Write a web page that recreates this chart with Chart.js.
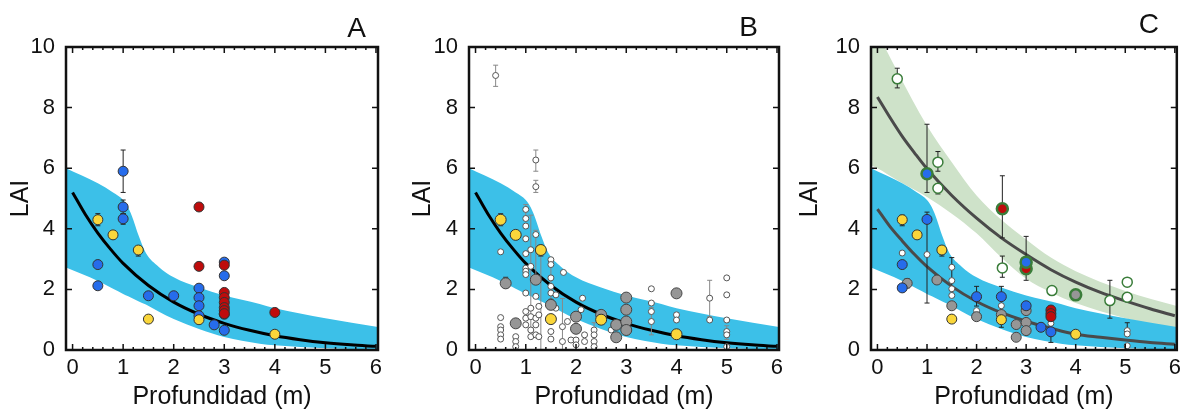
<!DOCTYPE html>
<html>
<head>
<meta charset="utf-8">
<script src="https://cdn.jsdelivr.net/npm/chart.js@4.4.0/dist/chart.umd.min.js"></script>
<style>
  body { margin: 0; background: #fff; }
  #wrap { position: relative; width: 1186px; height: 412px; overflow: hidden; }
  canvas { position: absolute; top: 0; }
</style>
</head>
<body>
<div id="wrap">
  <canvas id="chartA" width="394" height="412" style="left:2px"></canvas>
  <canvas id="chartB" width="392" height="412" style="left:404px"></canvas>
  <canvas id="chartC" width="395" height="412" style="left:791px"></canvas>
</div>
<script>
// axis ticks
const xTicks = [0, 1, 2, 3, 4, 5, 6];
const yTicks = [0, 2, 4, 6, 8, 10];

// blue confidence band (A, B and lower band of C)
const bandX     = [-0.13, 0.5, 0.8, 1.0, 1.1, 1.2, 1.3, 1.45, 1.7, 2.0, 2.5, 3.0, 3.7, 4.0, 5.0, 6.04];
const bandUpper = [6.0, 5.5, 5.2, 4.95, 4.7, 4.3, 3.8, 3.2, 2.75, 2.4, 2.06, 1.8, 1.52, 1.38, 1.05, 0.76];
const bandLower = [2.72, 2.28, 2.02, 1.85, 1.77, 1.69, 1.61, 1.5, 1.27, 1.02, 0.69, 0.43, 0.21, 0.16, 0.06, 0.02];

// green band (C)
const greenX     = [-0.13, 0, 0.4, 1.0, 1.5, 2.0, 2.5, 3.0, 3.5, 4.0, 5.0, 6.04];
const greenUpper = [11.0, 10.5, 9.2, 7.4, 6.2, 5.1, 4.3, 3.65, 3.05, 2.6, 1.95, 1.45];
const greenLower = [6.1, 6.0, 5.6, 5.05, 4.5, 3.85, 3.05, 2.35, 1.9, 1.55, 1.05, 0.7];

// fitted curves
const curveX     = [0, 0.25, 0.5, 0.75, 1, 1.5, 2, 2.5, 3, 3.5, 4, 4.5, 5, 5.5, 6];
const curveAB    = [5.2, 4.48, 3.86, 3.33, 2.86, 2.13, 1.58, 1.18, 0.88, 0.65, 0.47, 0.34, 0.24, 0.17, 0.12];
const curveCLow  = [4.65, 4.08, 3.6, 3.15, 2.75, 2.1, 1.6, 1.23, 0.95, 0.72, 0.52, 0.42, 0.33, 0.25, 0.19];
const curveCHigh = [8.35, 7.68, 7.05, 6.5, 5.98, 5.1, 4.35, 3.7, 3.15, 2.65, 2.24, 1.9, 1.62, 1.36, 1.13];

// panel A points
const aBlueX   = [1.0, 1.0, 1.0, 0.5, 0.5, 1.5, 2.0, 2.5, 2.5, 2.5, 2.5, 2.8, 3.0, 3.0, 3.0, 3.0];
const aBlueY   = [5.9, 4.72, 4.33, 2.82, 2.12, 1.79, 1.79, 2.04, 1.73, 1.46, 1.13, 0.83, 0.65, 2.9, 2.45, 1.18];
const aRedX    = [2.5, 2.5, 3.0, 3.0, 3.0, 3.0, 3.0, 3.0, 3.0, 4.0];
const aRedY    = [4.72, 2.76, 2.8, 1.9, 1.73, 1.57, 1.4, 1.3, 1.2, 1.24];
const yellowX  = [0.5, 0.8, 1.3, 1.5, 2.5, 4.0];
const yellowY  = [4.3, 3.8, 3.3, 1.02, 1.0, 0.52];
const aErrX    = [1.0, 1.0, 1.0, 0.5, 1.3];
const aErrLo   = [5.2, 4.5, 4.15, 4.1, 3.1];
const aErrHi   = [6.6, 4.95, 4.5, 4.5, 3.42];

// panel B points
const bGrayX  = [0.6, 0.8, 1.2, 1.5, 2.0, 2.0, 2.5, 2.8, 2.8, 3.0, 3.0, 3.0, 3.0, 4.0];
const bGrayY  = [2.2, 0.88, 2.32, 1.49, 1.1, 0.7, 1.16, 0.83, 0.42, 1.73, 1.33, 0.94, 0.66, 1.87];
const bWhiteX = [0.4, 0.5, 0.5, 0.5, 0.5, 0.5, 0.5, 0.8, 0.8, 0.8,
  1.0, 1.0, 1.0, 1.0, 1.0, 1.0, 1.0, 1.0, 1.0, 1.0, 1.0, 1.0,
  1.1, 1.1, 1.1, 1.1, 1.1, 1.1, 1.2, 1.2, 1.2, 1.2, 1.2, 1.2, 1.2,
  1.26, 1.26, 1.26, 1.5, 1.5, 1.5, 1.5, 1.5, 1.5, 1.5, 1.5, 1.6, 1.6,
  1.75, 1.73, 1.73, 1.83, 1.9, 2.13, 2.1, 2.0, 2.0, 2.17, 2.17,
  2.36, 2.36, 2.36, 2.36, 2.7, 3.0, 3.5, 3.5, 3.5, 3.5, 4.0, 4.0, 4.66, 4.66,
  5.0, 5.0, 5.0, 5.0, 5.0, 5.0];
const bWhiteY = [9.06, 3.24, 1.07, 0.77, 0.66, 0.5, 0.36, 0.44, 0.28, 0.11,
  4.64, 4.34, 4.09, 3.67, 3.18, 2.7, 2.6, 2.49, 1.88, 1.27, 1.05, 0.83,
  3.31, 2.76, 1.38, 1.1, 0.66, 0.44, 6.27, 5.39, 3.81, 1.77, 1.05, 0.83, 0.5,
  1.44, 1.16, 0.44, 2.98, 2.82, 2.38, 2.1, 1.88, 1.6, 0.61, 0.36, 1.82, 1.38,
  2.56, 0.77, 0.28, 0.94, 0.33, 1.71, 1.33, 0.33, 0.17, 0.5, 0.28,
  0.66, 0.5, 0.28, 0.11, 0.66, 0.99, 2.02, 1.55, 1.27, 0.94, 1.16, 0.99, 1.71, 0.99,
  2.38, 1.82, 0.99, 0.61, 0.5, 0.11];
const bErrX   = [0.4, 1.2, 1.2, 1.0, 1.1, 1.2, 1.3, 1.5, 1.73, 2.36, 3.5, 4.66, 5.0];
const bErrLo  = [8.7, 5.9, 5.2, 4.3, 0.4, 2.2, 0.0, 1.6, 0.0, 0.0, 0.5, 1.1, 0.35];
const bErrHi  = [9.4, 6.6, 5.6, 4.8, 4.45, 3.95, 3.2, 3.0, 1.7, 0.9, 1.4, 2.3, 0.8];
const bDarkErrX  = [0.5, 1.3, 0.6];
const bDarkErrLo = [4.1, 3.1, 2.05];
const bDarkErrHi = [4.5, 3.45, 2.4];

// panel C points
const cOpenX     = [0.4, 1.22, 1.22, 2.52, 3.52, 4.69, 5.04, 5.04];
const cOpenY     = [8.95, 6.2, 5.34, 2.71, 1.96, 1.63, 2.24, 1.74];
const cRingBlueX = [1.0, 3.0];
const cRingBlueY = [5.82, 2.9];
const cRingRedX  = [2.52, 3.0];
const cRingRedY  = [4.66, 2.68];
const cRingGrayX = [4.0];
const cRingGrayY = [1.82];
const cBlueX  = [1.0, 0.5, 0.5, 2.0, 2.5, 3.0, 3.3, 3.5];
const cBlueY  = [4.31, 2.82, 2.05, 1.76, 1.76, 1.46, 0.75, 0.6];
const cRedX   = [3.5, 3.5, 3.5];
const cRedY   = [1.32, 1.2, 1.1];
const cGrayX  = [0.6, 1.2, 1.5, 2.0, 2.5, 2.8, 2.8, 3.0, 3.0, 3.0];
const cGrayY  = [2.2, 2.31, 1.46, 1.1, 1.17, 0.84, 0.42, 1.3, 0.91, 0.64];
const cWhiteX = [0.5, 1.0, 1.5, 1.5, 1.5, 1.5, 2.0, 2.5, 3.5, 5.04, 5.04, 5.04];
const cWhiteY = [3.2, 3.15, 2.73, 2.29, 2.02, 1.8, 1.3, 1.46, 0.88, 0.64, 0.53, 0.14];
const cErrX  = [0.4, 1.0, 1.22, 1.22, 2.52, 2.52, 3.0, 4.69, 1.0, 0.5, 1.3, 1.5, 2.0, 2.5, 3.5, 5.04, 0.6];
const cErrLo = [8.65, 5.2, 5.9, 5.15, 3.7, 2.4, 2.3, 1.05, 1.55, 4.1, 3.1, 1.75, 1.45, 0.75, 0.25, 0.6, 2.05];
const cErrHi = [9.3, 7.45, 6.55, 5.34, 5.75, 3.1, 3.75, 2.3, 4.55, 4.45, 3.4, 3.05, 2.1, 2.1, 1.0, 0.9, 2.35];

const BLUE_BAND = 'rgb(60,192,232)';
const GREEN_BAND = 'rgb(206,226,201)';
const C_BLUE = 'rgb(38,108,235)';
const C_RED = 'rgb(190,12,12)';
const C_YELLOW = 'rgb(250,214,58)';
const C_GRAY = 'rgb(150,150,150)';
const C_GREEN = 'rgb(58,125,58)';

const xy = (xs, ys) => xs.map((v, i) => ({ x: v, y: ys[i] }));

function bandSets(xs, lo, hi, color, order) {
  return [
    { type: 'line', data: xy(xs, lo), borderWidth: 0, pointRadius: 0, fill: false,
      cubicInterpolationMode: 'monotone', order },
    { type: 'line', data: xy(xs, hi), borderWidth: 0, pointRadius: 0, fill: '-1',
      backgroundColor: color, cubicInterpolationMode: 'monotone', order }
  ];
}
function curveSet(ys, color, order, errBars) {
  return { type: 'line', data: xy(curveX, ys), borderColor: color, borderWidth: 3,
    pointRadius: 0, fill: false, cubicInterpolationMode: 'monotone', order, errBars };
}
function dots(xs, ys, fill, border, radius, bw, order) {
  return { data: xy(xs, ys), backgroundColor: fill, borderColor: border,
    pointRadius: radius, pointBorderWidth: bw, order };
}

const decor = {
  id: 'decor',
  afterDatasetDraw(chart, args) {
    const groups = chart.data.datasets[args.index].errBars;
    if (!groups) return;
    const { ctx, chartArea: a, scales: { x, y } } = chart;
    ctx.save();
    ctx.beginPath();
    ctx.rect(a.left, a.top, a.right - a.left, a.bottom - a.top);
    ctx.clip();
    ctx.lineWidth = 1;
    groups.forEach(g => {
      ctx.strokeStyle = g.color;
      ctx.beginPath();
      g.x.forEach((v, i) => {
        const px = x.getPixelForValue(v);
        const p1 = y.getPixelForValue(g.lo[i]);
        const p2 = y.getPixelForValue(g.hi[i]);
        ctx.moveTo(px, p1); ctx.lineTo(px, p2);
        ctx.moveTo(px - 2.5, p1); ctx.lineTo(px + 2.5, p1);
        ctx.moveTo(px - 2.5, p2); ctx.lineTo(px + 2.5, p2);
      });
      ctx.stroke();
    });
    ctx.restore();
  },
  afterDraw(chart, args, opts) {
    const { ctx, chartArea: a, scales: { x, y } } = chart;
    ctx.save();
    ctx.strokeStyle = '#111';
    ctx.lineWidth = 1.5;
    ctx.beginPath();
    for (let i = 0; i <= 30; i++) {
      const px = x.getPixelForValue(i / 5);
      const len = i % 5 === 0 ? 6 : 3;
      ctx.moveTo(px, a.bottom); ctx.lineTo(px, a.bottom - len);
      ctx.moveTo(px, a.top); ctx.lineTo(px, a.top + len);
    }
    yTicks.forEach(v => {
      const py = y.getPixelForValue(v);
      ctx.moveTo(a.left, py); ctx.lineTo(a.left + 6, py);
      ctx.moveTo(a.right, py); ctx.lineTo(a.right - 6, py);
    });
    ctx.stroke();
    ctx.lineWidth = 2.5;
    ctx.strokeRect(a.left, a.top, a.right - a.left, a.bottom - a.top);
    ctx.fillStyle = '#111';
    ctx.font = '28px "Liberation Sans", Arial, sans-serif';
    ctx.textAlign = 'right';
    ctx.fillText(opts.letter, opts.letterX, opts.letterY);
    ctx.restore();
  }
};

Chart.defaults.font.family = '"Liberation Sans", Arial, sans-serif';
Chart.defaults.color = '#111';

function options(yWidth, padRight, letter, letterX, letterY) {
  return {
    responsive: false,
    animation: false,
    layout: { padding: { top: 47, right: padRight, bottom: 0, left: 0 } },
    plugins: {
      legend: { display: false },
      tooltip: { enabled: false },
      decor: { letter, letterX, letterY }
    },
    scales: {
      x: {
        type: 'linear', min: -0.13, max: 6.04,
        afterFit: s => { s.height = 62; },
        afterBuildTicks: s => { s.ticks = xTicks.map(v => ({ value: v })); },
        grid: { display: false, drawTicks: false },
        border: { display: false },
        ticks: { padding: 5, font: { size: 22 } },
        title: { display: true, text: 'Profundidad (m)', font: { size: 25 }, padding: { top: 0, bottom: 0 } }
      },
      y: {
        type: 'linear', min: 0, max: 10,
        afterFit: s => { s.width = yWidth; },
        afterBuildTicks: s => { s.ticks = yTicks.map(v => ({ value: v })); },
        grid: { display: false, drawTicks: false },
        border: { display: false },
        ticks: { padding: 11, font: { size: 22 } },
        title: { display: true, text: 'LAI', font: { size: 25 }, padding: { top: 4, bottom: 0 } }
      }
    }
  };
}

new Chart(document.getElementById('chartA'), {
  type: 'scatter',
  data: {
    datasets: [
      ...bandSets(bandX, bandLower, bandUpper, BLUE_BAND, 10),
      curveSet(curveAB, '#000', 8, [{ color: '#222', x: aErrX, lo: aErrLo, hi: aErrHi }]),
      dots(aBlueX, aBlueY, C_BLUE, '#333', 5, 1, 4),
      dots(aRedX, aRedY, C_RED, '#333', 5, 1, 3),
      dots(yellowX, yellowY, C_YELLOW, '#333', 5, 1, 2)
    ]
  },
  options: options(64, 18, 'A', 364, 37),
  plugins: [decor]
});

new Chart(document.getElementById('chartB'), {
  type: 'scatter',
  data: {
    datasets: [
      ...bandSets(bandX, bandLower, bandUpper, BLUE_BAND, 10),
      curveSet(curveAB, '#000', 8, [
        { color: '#888', x: bErrX, lo: bErrLo, hi: bErrHi },
        { color: '#333', x: bDarkErrX, lo: bDarkErrLo, hi: bDarkErrHi }
      ]),
      dots(bWhiteX, bWhiteY, '#fff', '#555', 3, 1, 6),
      dots(bGrayX, bGrayY, C_GRAY, '#444', 5.5, 1, 5),
      dots(yellowX, yellowY, C_YELLOW, '#333', 5.5, 1, 4)
    ]
  },
  options: options(65, 17, 'B', 354, 36),
  plugins: [decor]
});

new Chart(document.getElementById('chartC'), {
  type: 'scatter',
  data: {
    datasets: [
      ...bandSets(greenX, greenLower, greenUpper, GREEN_BAND, 12),
      ...bandSets(bandX, bandLower, bandUpper, BLUE_BAND, 10),
      curveSet(curveCLow, '#4a4a4a', 9),
      curveSet(curveCHigh, '#4a4a4a', 8, [{ color: '#222', x: cErrX, lo: cErrLo, hi: cErrHi }]),
      dots(cWhiteX, cWhiteY, '#fff', '#555', 3, 1, 7),
      dots(cGrayX, cGrayY, C_GRAY, '#444', 5, 1, 6),
      dots(cOpenX, cOpenY, '#fff', C_GREEN, 5, 1.5, 5),
      dots(cBlueX, cBlueY, C_BLUE, '#333', 5, 1, 4),
      dots(cRedX, cRedY, C_RED, '#333', 5, 1, 3),
      dots(yellowX, yellowY, C_YELLOW, '#333', 5, 1, 2),
      dots(cRingGrayX, cRingGrayY, C_GRAY, C_GREEN, 5.5, 2.5, 1),
      dots(cRingBlueX, cRingBlueY, C_BLUE, C_GREEN, 5.5, 2.5, 1),
      dots(cRingRedX, cRingRedY, C_RED, C_GREEN, 5.5, 2.5, 1)
    ]
  },
  options: options(80, 5, 'C', 368, 33),
  plugins: [decor]
});
</script>
</body>
</html>
